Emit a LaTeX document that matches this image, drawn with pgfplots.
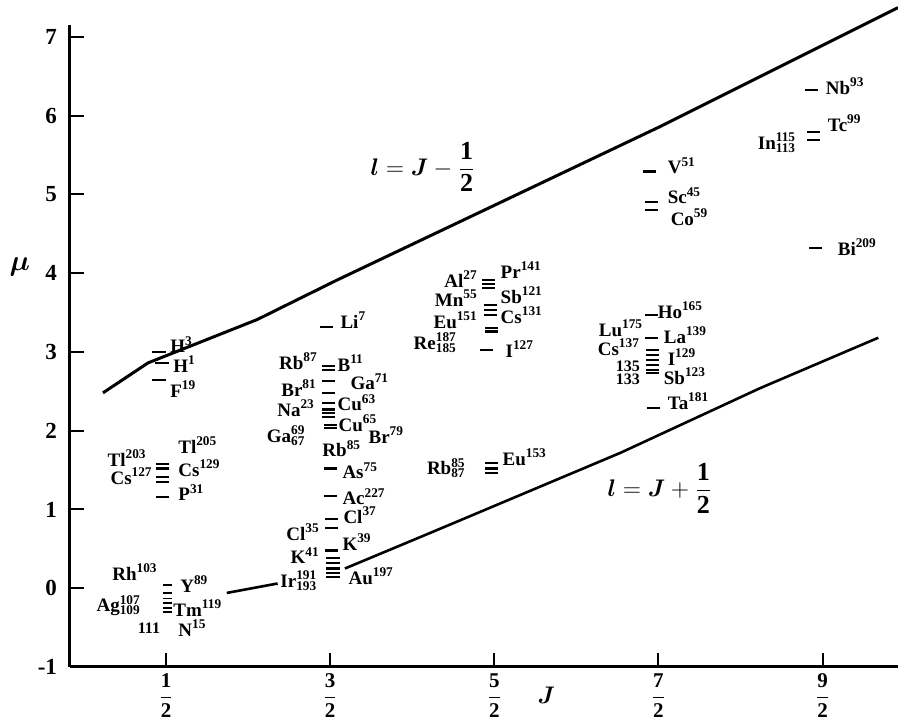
\documentclass[border=0pt]{standalone}
\usepackage{fontspec}
\setmainfont{Liberation Serif}
\usepackage{bm}
\usepackage{pgfplots}
\pgfplotsset{compat=1.18}
\tikzset{lab/.style={inner sep=0pt, font=\fontsize{9.5}{10}\selectfont\bfseries}}
\newcommand{\sps}[2]{\rlap{\textsuperscript{#1}}\textsubscript{#2}}
\begin{document}
\begin{tikzpicture}
\begin{axis}[
  name=ax,
  scale only axis, width=414pt, height=321pt,
  xmin=-0.085, xmax=4.96, ymin=-1, ymax=7.15,
  axis x line*=bottom, axis y line*=left,
  axis line style={line width=1.5pt},
  tick style={line width=1pt, black},
  major tick length=7pt,
  tick align=inside,
  xtick={0.5,1.5,2.5,3.5,4.5},
  xticklabels={$\displaystyle\frac{\mathbf{1}}{\mathbf{2}}$,$\displaystyle\frac{\mathbf{3}}{\mathbf{2}}$,$\displaystyle\frac{\mathbf{5}}{\mathbf{2}}$,$\displaystyle\frac{\mathbf{7}}{\mathbf{2}}$,$\displaystyle\frac{\mathbf{9}}{\mathbf{2}}$},
  xticklabel style={font=\fontsize{10.5}{12}\selectfont},
  ytick={-1,0,...,7},
  yticklabel style={font=\fontsize{11.5}{12}\selectfont\bfseries, xshift=-3pt},
  /pgf/number format/assume math mode=true,
  clip=false,
]
% Schmidt lines
\addplot[black, line width=1.5pt] coordinates {(0.116,2.48) (0.39,2.86) (1.055,3.41) (1.54,3.91) (2.51,4.87) (3.51,5.86) (4.96,7.37)};
\addplot[black, line width=1.3pt] coordinates {(0.87,-0.06) (1.18,0.06)};
\addplot[black, line width=1.3pt] coordinates {(1.59,0.25) (2.05,0.65) (2.29,0.86) (3.27,1.72) (4.12,2.54) (4.84,3.18)};
% measured moments (dashes)
\addplot[only marks, mark=-, mark size=3.3pt, mark options={line width=1.1pt, black}] coordinates {
(0.457,3.00) (0.476,2.86) (0.457,2.64) (0.48,1.58) (0.48,1.52) (0.48,1.41) (0.48,1.35) (0.48,1.16)
(1.48,3.32) (1.488,2.82) (1.488,2.77) (1.488,2.63) (1.488,2.48) (1.488,2.35) (1.488,2.27) (1.488,2.22) (1.488,2.17) (1.50,2.07) (1.50,2.03)
(1.50,1.52) (1.50,1.17) (1.506,0.88) (1.506,0.76) (1.506,0.48) (1.518,0.38) (1.518,0.32) (1.518,0.25) (1.518,0.19) (1.518,0.14)
(2.463,3.91) (2.463,3.86) (2.463,3.81) (2.476,3.60) (2.476,3.53) (2.476,3.47) (2.482,3.30) (2.482,3.26) (2.451,3.02)
(2.482,1.59) (2.482,1.52) (2.482,1.46)
(3.457,3.47) (3.457,3.18) (3.463,3.02) (3.463,2.96) (3.463,2.90) (3.463,2.83) (3.463,2.77) (3.463,2.73) (3.470,2.29)
(3.445,5.29) (3.457,4.90) (3.457,4.80)
(4.433,6.32) (4.445,5.79) (4.445,5.69) (4.457,4.32)
};
\addplot[only marks, mark=-, mark size=2.2pt, mark options={line width=0.8pt, black}] coordinates {
(0.51,0.04) (0.51,-0.06) (0.51,-0.13) (0.51,-0.19) (0.51,-0.25) (0.51,-0.30)
};
% labels, right side of dashes
\node[lab, anchor=base west] at (axis cs:0.524,2.99) {H\textsuperscript{3}};
\node[lab, anchor=base west] at (axis cs:0.543,2.74) {H\textsuperscript{1}};
\node[lab, anchor=base west] at (axis cs:0.524,2.42) {F\textsuperscript{19}};
\node[lab, anchor=base west] at (axis cs:0.573,1.71) {Tl\textsuperscript{205}};
\node[lab, anchor=base west] at (axis cs:0.573,1.42) {Cs\textsuperscript{129}};
\node[lab, anchor=base west] at (axis cs:0.573,1.11) {P\textsuperscript{31}};
\node[lab, anchor=base west] at (axis cs:0.585,-0.05) {Y\textsuperscript{89}};
\node[lab, anchor=base west] at (axis cs:0.543,-0.36) {Tm\textsuperscript{119}};
\node[lab, anchor=base west] at (axis cs:0.573,-0.61) {N\textsuperscript{15}};
\node[lab, anchor=base west] at (axis cs:1.195,0.01) {Ir\sps{191}{193}};
\node[lab, anchor=base west] at (axis cs:1.561,3.30) {Li\textsuperscript{7}};
\node[lab, anchor=base west] at (axis cs:1.543,2.75) {B\textsuperscript{11}};
\node[lab, anchor=base west] at (axis cs:1.622,2.52) {Ga\textsuperscript{71}};
\node[lab, anchor=base west] at (axis cs:1.543,2.25) {Cu\textsuperscript{63}};
\node[lab, anchor=base west] at (axis cs:1.549,1.99) {Cu\textsuperscript{65}};
\node[lab, anchor=base west] at (axis cs:1.451,1.67) {Rb\textsuperscript{85}};
\node[lab, anchor=base west] at (axis cs:1.732,1.84) {Br\textsuperscript{79}};
\node[lab, anchor=base west] at (axis cs:1.573,1.39) {As\textsuperscript{75}};
\node[lab, anchor=base west] at (axis cs:1.573,1.06) {Ac\textsuperscript{227}};
\node[lab, anchor=base west] at (axis cs:1.579,0.82) {Cl\textsuperscript{37}};
\node[lab, anchor=base west] at (axis cs:1.573,0.48) {K\textsuperscript{39}};
\node[lab, anchor=base west] at (axis cs:1.610,0.05) {Au\textsuperscript{197}};
\node[lab, anchor=base west] at (axis cs:2.537,3.93) {Pr\textsuperscript{141}};
\node[lab, anchor=base west] at (axis cs:2.537,3.62) {Sb\textsuperscript{121}};
\node[lab, anchor=base west] at (axis cs:2.537,3.36) {Cs\textsuperscript{131}};
\node[lab, anchor=base west] at (axis cs:2.567,2.93) {I\textsuperscript{127}};
\node[lab, anchor=base west] at (axis cs:2.549,1.56) {Eu\textsuperscript{153}};
\node[lab, anchor=base west] at (axis cs:3.494,3.43) {Ho\textsuperscript{165}};
\node[lab, anchor=base west] at (axis cs:3.531,3.11) {La\textsuperscript{139}};
\node[lab, anchor=base west] at (axis cs:3.555,2.83) {I\textsuperscript{129}};
\node[lab, anchor=base west] at (axis cs:3.531,2.59) {Sb\textsuperscript{123}};
\node[lab, anchor=base west] at (axis cs:3.555,2.27) {Ta\textsuperscript{181}};
\node[lab, anchor=base west] at (axis cs:3.555,5.26) {V\textsuperscript{51}};
\node[lab, anchor=base west] at (axis cs:3.555,4.88) {Sc\textsuperscript{45}};
\node[lab, anchor=base west] at (axis cs:3.573,4.61) {Co\textsuperscript{59}};
\node[lab, anchor=base west] at (axis cs:4.518,6.27) {Nb\textsuperscript{93}};
\node[lab, anchor=base west] at (axis cs:4.530,5.80) {Tc\textsuperscript{99}};
\node[lab, anchor=base west] at (axis cs:4.104,5.57) {In\sps{115}{113}};
\node[lab, anchor=base west] at (axis cs:4.591,4.23) {Bi\textsuperscript{209}};
% labels, left side of dashes
\node[lab, anchor=base east] at (axis cs:0.384,1.55) {Tl\textsuperscript{203}};
\node[lab, anchor=base east] at (axis cs:0.421,1.32) {Cs\textsuperscript{127}};
\node[lab, anchor=base east] at (axis cs:0.451,0.10) {Rh\textsuperscript{103}};
\node[lab, anchor=base east] at (axis cs:0.476,-0.30) {Ag\sps{107}{109}\phantom{\textsuperscript{109}}};
\node[lab, anchor=base] at (axis cs:0.396,-0.58) {\fontsize{8}{9}\selectfont 111};
\node[lab, anchor=base east] at (axis cs:1.427,2.78) {Rb\textsuperscript{87}};
\node[lab, anchor=base east] at (axis cs:1.421,2.44) {Br\textsuperscript{81}};
\node[lab, anchor=base east] at (axis cs:1.409,2.18) {Na\textsuperscript{23}};
\node[lab, anchor=base east] at (axis cs:1.439,1.85) {Ga\sps{69}{67}\phantom{\textsuperscript{69}}};
\node[lab, anchor=base east] at (axis cs:1.439,0.61) {Cl\textsuperscript{35}};
\node[lab, anchor=base east] at (axis cs:1.439,0.31) {K\textsuperscript{41}};
\node[lab, anchor=base east] at (axis cs:2.402,3.82) {Al\textsuperscript{27}};
\node[lab, anchor=base east] at (axis cs:2.402,3.58) {Mn\textsuperscript{55}};
\node[lab, anchor=base east] at (axis cs:2.402,3.30) {Eu\textsuperscript{151}};
\node[lab, anchor=base east] at (axis cs:2.402,3.03) {Re\sps{187}{185}\phantom{\textsuperscript{187}}};
\node[lab, anchor=base east] at (axis cs:2.415,1.44) {Rb\sps{85}{87}\phantom{\textsuperscript{85}}};
\node[lab, anchor=base east] at (axis cs:3.409,3.20) {Lu\textsuperscript{175}};
\node[lab, anchor=base east] at (axis cs:3.390,2.96) {Cs\textsuperscript{137}};
\node[lab, anchor=base east] at (axis cs:3.390,2.75) {\fontsize{8}{9}\selectfont 135};
\node[lab, anchor=base east] at (axis cs:3.390,2.58) {\fontsize{8}{9}\selectfont 133};
% line labels and axis labels
\node[anchor=west, inner sep=0pt] at (axis cs:1.744,5.35) {\fontsize{13}{14}\selectfont$\bm{l} = \bm{J} - \displaystyle\frac{\mathbf{1}}{\mathbf{2}}$};
\node[anchor=west, inner sep=0pt] at (axis cs:3.189,1.27) {\fontsize{13}{14}\selectfont$\bm{l} = \bm{J} + \displaystyle\frac{\mathbf{1}}{\mathbf{2}}$};
\node at (axis cs:-0.39,4.08) {\fontsize{15}{15}\selectfont$\bm{\mu}$};
\node at (axis cs:2.817,-1.36) {\fontsize{12}{12}\selectfont$\bm{J}$};
\end{axis}
\pgfresetboundingbox
\path[use as bounding box] ([xshift=-35pt,yshift=-29pt]ax.south west) rectangle ([yshift=12.5pt]ax.north east);
\end{tikzpicture}
\end{document}
